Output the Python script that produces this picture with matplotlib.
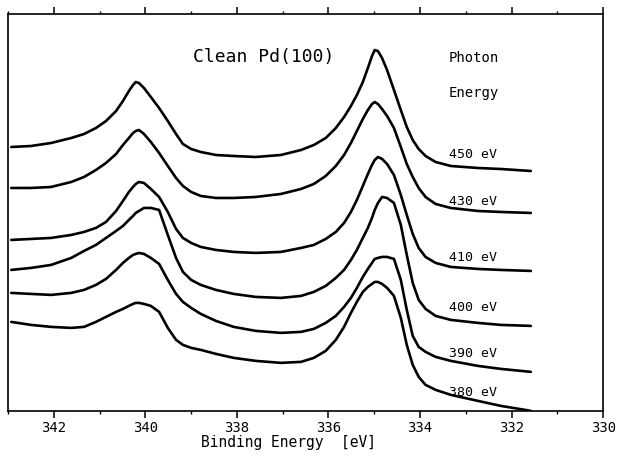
import matplotlib
matplotlib.use("Agg")
import matplotlib.pyplot as plt
from matplotlib.ticker import MultipleLocator

plt.rcParams['font.family'] = ['DejaVu Sans Mono']

# photon energies (eV) of the six spectra, top to bottom
photon = [450, 430, 410, 400, 390, 380]

binding_energy = [342.93, 342.50, 342.06, 341.62, 341.34, 341.08, 340.86, 340.64, 340.49, 340.36,
                  340.27, 340.21, 340.14, 340.03, 339.88, 339.70, 339.51, 339.33, 339.18, 339.00,
                  338.79, 338.46, 338.07, 337.59, 337.04, 336.60, 336.32, 336.06, 335.84, 335.66,
                  335.51, 335.38, 335.25, 335.14, 335.05, 334.99, 334.92, 334.83, 334.72, 334.57,
                  334.42, 334.29, 334.16, 334.03, 333.88, 333.66, 333.33, 332.74, 332.24, 331.58]

# intensities (arb. units, curves offset vertically)
int_450 = [264, 265, 268, 273, 277, 283, 290, 300, 310, 320, 326, 329, 328, 323, 314, 303, 290,
           277, 267, 262, 259, 256, 255, 254, 256, 261, 266, 273, 283, 294, 305, 316, 329, 343,
           355, 361, 360, 353, 341, 321, 301, 284, 271, 262, 255, 249, 245, 243, 242, 240]
int_430 = [223, 223, 224, 229, 234, 241, 248, 257, 266, 273, 278, 280, 281, 277, 269, 258, 245,
           233, 225, 219, 215, 213, 213, 214, 217, 222, 227, 235, 245, 256, 268, 280, 292, 301,
           307, 309, 307, 302, 295, 283, 264, 247, 234, 223, 214, 207, 203, 200, 199, 198]
int_410 = [171, 172, 173, 176, 179, 183, 189, 200, 210, 219, 224, 227, 229, 228, 222, 214, 199,
           182, 173, 168, 164, 161, 159, 158, 159, 163, 166, 172, 179, 188, 199, 211, 225, 237,
           246, 251, 254, 252, 247, 236, 216, 196, 177, 163, 154, 148, 144, 142, 141, 140]
int_400 = [141, 143, 146, 153, 160, 166, 173, 180, 185, 191, 195, 198, 200, 203, 203, 201, 176,
           153, 139, 131, 126, 121, 117, 114, 113, 115, 119, 125, 133, 141, 151, 161, 173, 183,
           193, 201, 208, 214, 213, 208, 186, 156, 128, 111, 102, 95, 91, 88, 86, 85]
int_390 = [118, 117, 116, 118, 121, 126, 132, 141, 148, 153, 156, 157, 158, 157, 153, 147, 131,
           117, 109, 103, 97, 90, 84, 80, 78, 79, 82, 88, 95, 104, 113, 123, 134, 142,
           148, 152, 153, 154, 154, 152, 131, 101, 75, 64, 59, 54, 50, 45, 42, 39]
int_380 = [89, 86, 84, 83, 84, 89, 94, 99, 102, 105, 107, 108, 108, 107, 105, 99, 83,
           71, 66, 63, 61, 57, 53, 50, 48, 49, 53, 60, 71, 84, 98, 109, 119, 124,
           127, 129, 129, 127, 123, 115, 93, 66, 46, 34, 26, 21, 16, 10, 5, 0]

spectra = [int_450, int_430, int_410, int_400, int_390, int_380]

# heights of the photon energy tags
label_y = [256, 209, 153, 103, 57, 18]

fig = plt.figure(figsize=(6.18, 4.69), dpi=100)
ax = fig.add_axes([0.013, 0.124, 0.963, 0.846])

for inten in spectra:
    ax.plot(binding_energy, inten, color='black', lw=1.9,
            solid_joinstyle='round', solid_capstyle='round')

for hv, ly in zip(photon, label_y):
    ax.text(333.37, ly, f"{hv} eV", fontsize=9.5, ha='left', va='center')

ax.text(337.41, 354, "Clean Pd(100)", fontsize=13, ha='center', va='center')
ax.text(333.37, 353, "Photon", fontsize=10, ha='left', va='center')
ax.text(333.37, 318, "Energy", fontsize=10, ha='left', va='center')

ax.set_xlim(343, 330)
ax.set_ylim(0, 397)
ax.xaxis.set_major_locator(MultipleLocator(2))
ax.xaxis.set_minor_locator(MultipleLocator(1))
ax.tick_params(axis='x', which='major', direction='out', length=5, width=1.1,
               top=True, labelsize=10, pad=2)
ax.tick_params(axis='x', which='minor', direction='out', length=2.5, width=1.0, top=True)
ax.set_yticks([])
for sp in ax.spines.values():
    sp.set_linewidth(1.2)

ax.set_xlabel("Binding Energy  [eV]", fontsize=10.5)
ax.xaxis.set_label_coords(0.472, -0.062)

fig.savefig("out.png", dpi=100)
